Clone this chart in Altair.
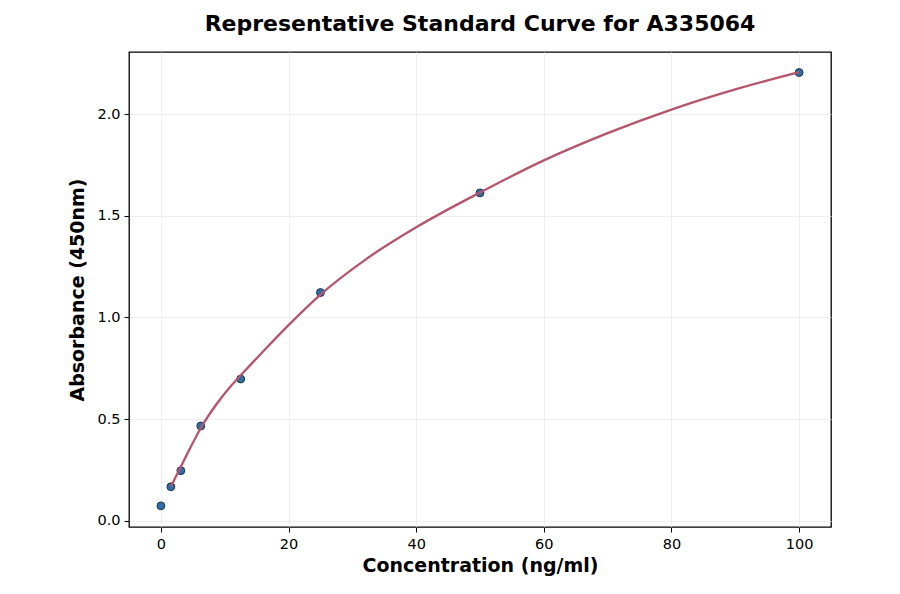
import altair as alt
import pandas as pd

# Measured standard points
conc = [0, 1.5625, 3.125, 6.25, 12.5, 25, 50, 100]
absorb = [0.073, 0.167, 0.246, 0.466, 0.697, 1.122, 1.612, 2.204]

# Fitted curve, values
curve_x = [1.5625, 3.125, 4.5, 6.25, 8.5, 11, 12.5, 16, 20, 25, 32, 40, 50, 60, 70, 80, 90, 100]
curve_y = [0.167, 0.266, 0.352, 0.456, 0.564, 0.664, 0.715, 0.832, 0.962, 1.112, 1.283, 1.443,
           1.614, 1.772, 1.906, 2.022, 2.121, 2.206]

x_ticks = [0, 20, 40, 60, 80, 100]
y_ticks = [0.0, 0.5, 1.0, 1.5, 2.0]

pts = pd.DataFrame({"x": conc, "y": absorb})
crv = pd.DataFrame({"x": curve_x, "y": curve_y})

FONT = "DejaVu Sans"

xscale = alt.Scale(domain=[-5, 105], nice=False, zero=False)
yscale = alt.Scale(domain=[-0.031, 2.305], nice=False, zero=False)

common = dict(titleFont=FONT, titleFontSize=19, titleFontWeight="bold", titleColor="black",
              labelFont=FONT, labelFontSize=14.5, labelColor="black",
              tickSize=5, tickColor="black", tickWidth=1,
              domain=False, grid=True, gridColor="#ebebeb", gridWidth=0.8)

xaxis = alt.Axis(values=x_ticks, format="d", title="Concentration (ng/ml)",
                 titlePadding=6, labelPadding=5, **common)
yaxis = alt.Axis(values=y_ticks, format=".1f", title="Absorbance (450nm)",
                 titlePadding=9, labelPadding=4, **common)

points = alt.Chart(pts).mark_point(filled=True, size=62, color="#2d6ea6",
                                   stroke="#1b3550", strokeWidth=1, opacity=1).encode(
    x=alt.X("x:Q", scale=xscale, axis=xaxis),
    y=alt.Y("y:Q", scale=yscale, axis=yaxis),
)

line = alt.Chart(crv).mark_line(color="#b5546a", strokeWidth=2.3, interpolate="monotone").encode(
    x=alt.X("x:Q", scale=xscale),
    y=alt.Y("y:Q", scale=yscale),
)

chart = alt.layer(points, line).properties(
    width=702, height=475,
    background="white",
    title=alt.TitleParams("Representative Standard Curve for A335064", font=FONT,
                          fontSize=22, fontWeight="bold", color="black", offset=16, anchor="middle"),
    autosize=alt.AutoSizeParams(type="none"),
    padding={"left": 121, "top": 44, "right": 60, "bottom": 60},
).configure_view(stroke="black", strokeWidth=1.3)

chart.save("out.html", embed_options={"renderer": "svg", "actions": False})
